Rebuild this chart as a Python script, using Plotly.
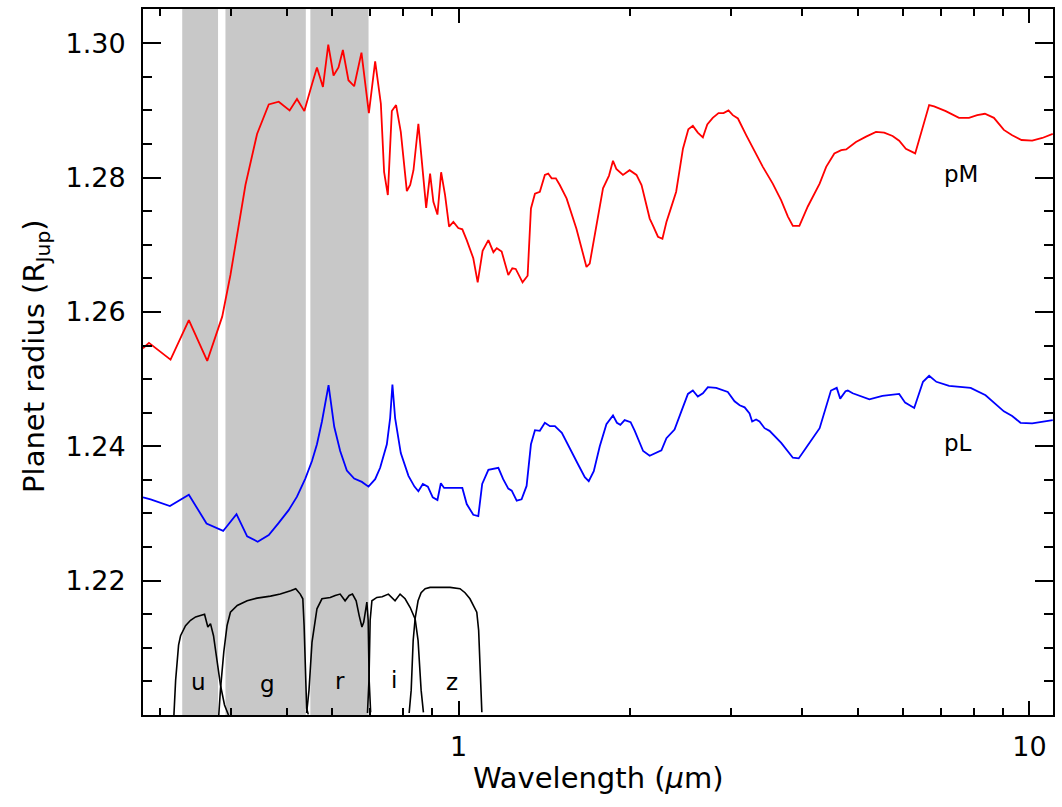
import math
import plotly.graph_objects as go

# Transit radius spectra (wavelength in micron, radius in Jupiter radii)
pm_wl = [0.280, 0.2868, 0.3129, 0.3369, 0.3628, 0.3854, 0.3984, 0.4233, 0.4436, 0.4650,
         0.4841, 0.5059, 0.5211, 0.5368, 0.5536, 0.5648, 0.5786, 0.5912, 0.6039, 0.6161,
         0.6271, 0.6413, 0.6563, 0.6759, 0.6964, 0.7143, 0.7309, 0.7406, 0.7518, 0.7640,
         0.7772, 0.7921, 0.8117, 0.8227, 0.8337, 0.8503, 0.8775, 0.8915, 0.9034, 0.9183,
         0.9321, 0.9470, 0.9625, 0.9793, 0.9988, 1.0153, 1.0335, 1.0612, 1.0802, 1.1019,
         1.1278, 1.1509, 1.1667, 1.1898, 1.2221, 1.2422, 1.2593, 1.2945, 1.3212, 1.3391,
         1.3609, 1.3880, 1.4164, 1.4357, 1.4556, 1.4807, 1.5043, 1.5460, 1.6087, 1.6753,
         1.6973, 1.7556, 1.7908, 1.8348, 1.8644, 1.8896, 1.9409, 1.9937, 2.0498, 2.092,
         2.1198, 2.162, 2.1899, 2.2352, 2.2759, 2.313, 2.35, 2.4056, 2.4724, 2.5266,
         2.5729, 2.625, 2.6793, 2.7272, 2.788, 2.8538, 2.9123, 2.9708, 3.0228, 3.0861,
         3.1924, 3.2848, 3.4125, 3.5514, 3.6748, 3.7756, 3.8519, 3.9542, 4.0908, 4.2911,
         4.4058, 4.5534, 4.6813, 4.7767, 4.8531, 4.9676, 5.1751, 5.3861, 5.5671, 5.7593,
         5.9144, 6.0754, 6.309, 6.6739, 6.8098, 7.1374, 7.528, 7.8385, 8.1026, 8.3576,
         8.6667, 9.0222, 9.3296, 9.689, 10.114, 10.536, 10.99]
pm_r = [1.2546, 1.2554, 1.2529, 1.2588, 1.2527, 1.2593, 1.2655, 1.2789, 1.2865, 1.2909,
        1.2913, 1.2900, 1.2917, 1.2899, 1.2939, 1.2964, 1.2935, 1.2998, 1.2952, 1.2964,
        1.2990, 1.2945, 1.2936, 1.2986, 1.2896, 1.2973, 1.2910, 1.2808, 1.2774, 1.2899,
        1.2908, 1.2868, 1.2780, 1.2789, 1.2811, 1.2880, 1.2755, 1.2806, 1.2764, 1.2745,
        1.2808, 1.2774, 1.2727, 1.2734, 1.2725, 1.2723, 1.2707, 1.2680, 1.2644, 1.2691,
        1.2707, 1.2689, 1.2695, 1.2690, 1.2655, 1.2665, 1.2664, 1.2644, 1.2654, 1.2754,
        1.2776, 1.2779, 1.2804, 1.2806, 1.2799, 1.2799, 1.2789, 1.2769, 1.2724, 1.2667,
        1.2672, 1.2739, 1.2784, 1.2803, 1.2825, 1.2813, 1.2804, 1.2811, 1.2804, 1.2789,
        1.2769, 1.2739, 1.2729, 1.2712, 1.2709, 1.2734, 1.2752, 1.2779, 1.2843, 1.2872,
        1.2877, 1.2867, 1.2860, 1.2879, 1.2889, 1.2896, 1.2896, 1.2900, 1.2893, 1.2888,
        1.2863, 1.2843, 1.2816, 1.2791, 1.2766, 1.2742, 1.2728, 1.2728, 1.2757, 1.2791,
        1.2816, 1.2836, 1.2841, 1.2842, 1.2846, 1.2853, 1.2861, 1.2868, 1.2867, 1.2862,
        1.2855, 1.2843, 1.2836, 1.2908, 1.2906, 1.2899, 1.2889, 1.2889, 1.2893, 1.2895,
        1.2889, 1.2871, 1.2863, 1.2856, 1.2855, 1.2859, 1.2865]

pl_wl = [0.280, 0.2887, 0.3121, 0.3369, 0.3618, 0.3869, 0.4083, 0.4262, 0.4447, 0.4650,
         0.4841, 0.5039, 0.5211, 0.5389, 0.5536, 0.5648, 0.5763, 0.5919, 0.6056, 0.6203,
         0.6372, 0.6563, 0.6770, 0.6953, 0.7143, 0.7288, 0.7488, 0.7588, 0.7658, 0.7742,
         0.7921, 0.8170, 0.8370, 0.8503, 0.8658, 0.8835, 0.9011, 0.9183, 0.9310, 0.9433,
         0.9730, 1.0153, 1.0335, 1.0612, 1.0828, 1.1000, 1.1278, 1.1509, 1.1741, 1.1972,
         1.2221, 1.2392, 1.2643, 1.2894, 1.3158, 1.3391, 1.3609, 1.3880, 1.4164, 1.4456,
         1.4749, 1.5168, 1.5665, 1.6173, 1.6640, 1.6907, 1.7254, 1.7676, 1.8156, 1.8644,
         1.8941, 1.9205, 1.9543, 2.0017, 2.0354, 2.1055, 2.1620, 2.2667, 2.3130, 2.3898,
         2.4563, 2.5226, 2.5729, 2.6250, 2.6793, 2.7337, 2.8269, 2.9626, 3.0443, 3.1076,
         3.1709, 3.2342, 3.2684, 3.3208, 3.3667, 3.4361, 3.5056, 3.6748, 3.8519, 3.9435,
         4.0634, 4.2911, 4.4914, 4.5973, 4.6622, 4.7634, 4.8073, 4.9027, 5.2447, 5.5278,
         5.9144, 6.0578, 6.2839, 6.5109, 6.6739, 6.8723, 7.2339, 7.8913, 8.3808, 8.7837,
         9.0222, 9.3296, 9.6496, 10.114, 10.99]
pl_r = [1.2324, 1.2321, 1.2311, 1.2328, 1.2285, 1.2274, 1.2299, 1.2266, 1.2258, 1.2268,
        1.2286, 1.2305, 1.2325, 1.2352, 1.2378, 1.2403, 1.2437, 1.2491, 1.2429, 1.2393,
        1.2364, 1.2352, 1.2347, 1.2340, 1.2351, 1.2368, 1.2403, 1.2442, 1.2492, 1.2442,
        1.2390, 1.2356, 1.2340, 1.2333, 1.2344, 1.2340, 1.2324, 1.2320, 1.2345, 1.2338,
        1.2338, 1.2338, 1.2314, 1.2298, 1.2296, 1.2344, 1.2365, 1.2366, 1.2368, 1.2351,
        1.2337, 1.2334, 1.2319, 1.2321, 1.2341, 1.2403, 1.2424, 1.2423, 1.2435, 1.2430,
        1.2430, 1.2420, 1.2396, 1.2374, 1.2354, 1.2348, 1.2363, 1.2400, 1.2433, 1.2446,
        1.2435, 1.2432, 1.2439, 1.2436, 1.2423, 1.2393, 1.2386, 1.2394, 1.2412, 1.2425,
        1.2452, 1.2478, 1.2483, 1.2474, 1.2479, 1.2488, 1.2487, 1.2481, 1.2467, 1.2461,
        1.2458, 1.2449, 1.2437, 1.2440, 1.2437, 1.2427, 1.2423, 1.2405, 1.2383, 1.2382,
        1.2398, 1.2427, 1.2483, 1.2487, 1.2471, 1.2482, 1.2483, 1.2479, 1.2470, 1.2475,
        1.2478, 1.2465, 1.2457, 1.2496, 1.2505, 1.2496, 1.2490, 1.2487, 1.2476, 1.2461,
        1.2452, 1.2445, 1.2435, 1.2434, 1.2439]

# Shaded passbands (micron)
band_lo = [0.328, 0.3905, 0.550]
band_hi = [0.379, 0.540, 0.6955]

# SDSS filter throughput curves, scaled onto the radius axis
u_wl = [0.3172, 0.3194, 0.3232, 0.3258, 0.3324, 0.3392, 0.3462, 0.3556, 0.3589, 0.3637,
        0.3676, 0.3721, 0.3752, 0.3797, 0.3828, 0.3890, 0.3953]
u_r = [1.2000, 1.2052, 1.2104, 1.2118, 1.2133, 1.2141, 1.2146, 1.2149, 1.2150, 1.2131,
       1.2136, 1.2118, 1.2094, 1.2066, 1.2044, 1.2015, 1.2000]
g_wl = [0.3801, 0.3828, 0.3879, 0.3930, 0.3984, 0.4095, 0.4262, 0.4436, 0.4683, 0.4872,
        0.5078, 0.5185, 0.5280, 0.5335, 0.5363, 0.5390, 0.5418, 0.5453]
g_r = [1.2000, 1.2039, 1.2094, 1.2133, 1.2153, 1.2163, 1.2170, 1.2174, 1.2177, 1.2180,
       1.2185, 1.2188, 1.2180, 1.2173, 1.2133, 1.2059, 1.2010, 1.2001]
r_wl = [0.5418, 0.5470, 0.5536, 0.5648, 0.5763, 0.5959, 0.6080, 0.6202, 0.6327, 0.6432,
        0.6518, 0.6616, 0.6697, 0.6772, 0.6820, 0.6908, 0.6944, 0.6972, 0.7014]
r_r = [1.2003, 1.2037, 1.2108, 1.2158, 1.2173, 1.2175, 1.2178, 1.2180, 1.2170, 1.2178,
       1.2180, 1.2170, 1.2148, 1.2131, 1.2138, 1.2168, 1.2141, 1.2052, 1.2004]
i_wl = [0.6925, 0.6967, 0.7000, 0.7050, 0.7192, 0.7348, 0.7535, 0.7740, 0.7899, 0.8060,
        0.8227, 0.8393, 0.8493, 0.8598, 0.8678]
i_r = [1.2003, 1.2052, 1.2141, 1.2170, 1.2175, 1.2176, 1.2180, 1.2170, 1.2180, 1.2173,
       1.2160, 1.2143, 1.2111, 1.2037, 1.2004]
z_wl = [0.8193, 0.8260, 0.8327, 0.8393, 0.8493, 0.8598, 0.8740, 0.8915, 0.9278, 0.9664,
        1.0058, 1.0264, 1.0470, 1.0642, 1.0763, 1.0844, 1.0909, 1.0985]
z_r = [1.2003, 1.2037, 1.2111, 1.2144, 1.2170, 1.2182, 1.2188, 1.2190, 1.2190, 1.2190,
       1.2188, 1.2182, 1.2173, 1.2161, 1.2153, 1.2126, 1.2066, 1.2004]

filter_names = ["u", "g", "r", "i", "z"]
filter_label_wl = [0.3505, 0.4618, 0.6186, 0.7698, 0.973]
filter_label_r = [1.2049, 1.2046, 1.2050, 1.2052, 1.2049]

series_names = ["pM", "pL"]
series_label_wl = [7.59, 7.50]
series_label_r = [1.2805, 1.2405]

x_major = [1, 10]
x_major_text = ["1", "10"]
x_minor = [0.3, 0.4, 0.5, 0.6, 0.7, 0.8, 0.9, 2, 3, 4, 5, 6, 7, 8, 9]
y_major = [1.22, 1.24, 1.26, 1.28, 1.30]
y_major_text = ["1.22", "1.24", "1.26", "1.28", "1.30"]
y_minor = [1.205, 1.21, 1.215, 1.225, 1.23, 1.235, 1.245, 1.25, 1.255,
           1.265, 1.27, 1.275, 1.285, 1.29, 1.295]

FONT = "DejaVu Sans"

fig = go.Figure()

for wl, rr in [(u_wl, u_r), (g_wl, g_r), (r_wl, r_r), (i_wl, i_r), (z_wl, z_r)]:
    fig.add_trace(go.Scatter(x=wl, y=rr, mode="lines",
                             line=dict(color="black", width=1.6),
                             showlegend=False, hoverinfo="skip"))

fig.add_trace(go.Scatter(x=pm_wl, y=pm_r, mode="lines", name="pM",
                         line=dict(color="#ff0000", width=1.8), showlegend=False))
fig.add_trace(go.Scatter(x=pl_wl, y=pl_r, mode="lines", name="pL",
                         line=dict(color="#0000ff", width=1.8), showlegend=False))

shapes = []
for lo, hi in zip(band_lo, band_hi):
    shapes.append(dict(type="rect", xref="x", yref="paper", x0=lo, x1=hi, y0=0, y1=1,
                       fillcolor="rgb(200,200,200)", line=dict(width=0), layer="below"))

annotations = []
for name, wl, rr in zip(filter_names, filter_label_wl, filter_label_r):
    annotations.append(dict(x=math.log10(wl), y=rr, xref="x", yref="y", text=name,
                            showarrow=False, font=dict(family=FONT, size=23, color="black"),
                            xanchor="center", yanchor="middle"))
for name, wl, rr in zip(series_names, series_label_wl, series_label_r):
    annotations.append(dict(x=math.log10(wl), y=rr, xref="x", yref="y", text=name,
                            showarrow=False, font=dict(family=FONT, size=23, color="black"),
                            xanchor="center", yanchor="middle"))
annotations.append(dict(x=0.5, y=-0.089, xref="paper", yref="paper",
                        text="Wavelength (<i>\u03bc</i>m)", showarrow=False,
                        font=dict(family=FONT, size=29, color="black"),
                        xanchor="center", yanchor="middle"))
annotations.append(dict(x=-0.117, y=0.508, xref="paper", yref="paper",
                        text="Planet radius (R<sub>Jup</sub>)", showarrow=False, textangle=-90,
                        font=dict(family=FONT, size=29, color="black"),
                        xanchor="center", yanchor="middle"))

axis_common = dict(showline=True, linecolor="black", linewidth=2, mirror="allticks",
                   ticks="inside", tickcolor="black", tickwidth=1.5,
                   showgrid=False, zeroline=False,
                   tickfont=dict(family=FONT, size=27, color="black"))

fig.update_layout(
    width=1062, height=807,
    margin=dict(l=143, r=8, t=7, b=92),
    paper_bgcolor="white", plot_bgcolor="white",
    xaxis=dict(type="log", range=[math.log10(0.28), math.log10(11)],
               tickmode="array", tickvals=x_major, ticktext=x_major_text, ticklen=14,
               ticklabelstandoff=7,
               minor=dict(tickmode="array", tickvals=x_minor, ticklen=7, ticks="inside",
                          tickcolor="black", tickwidth=1.5, showgrid=False),
               **axis_common),
    yaxis=dict(range=[1.20, 1.3051], tickmode="array", tickvals=y_major, ticktext=y_major_text,
               ticklen=18, ticklabelstandoff=10,
               minor=dict(tickmode="array", tickvals=y_minor, ticklen=9, ticks="inside",
                          tickcolor="black", tickwidth=1.5, showgrid=False),
               **axis_common),
    shapes=shapes,
    annotations=annotations,
    showlegend=False,
)

fig.write_html("out.html")
